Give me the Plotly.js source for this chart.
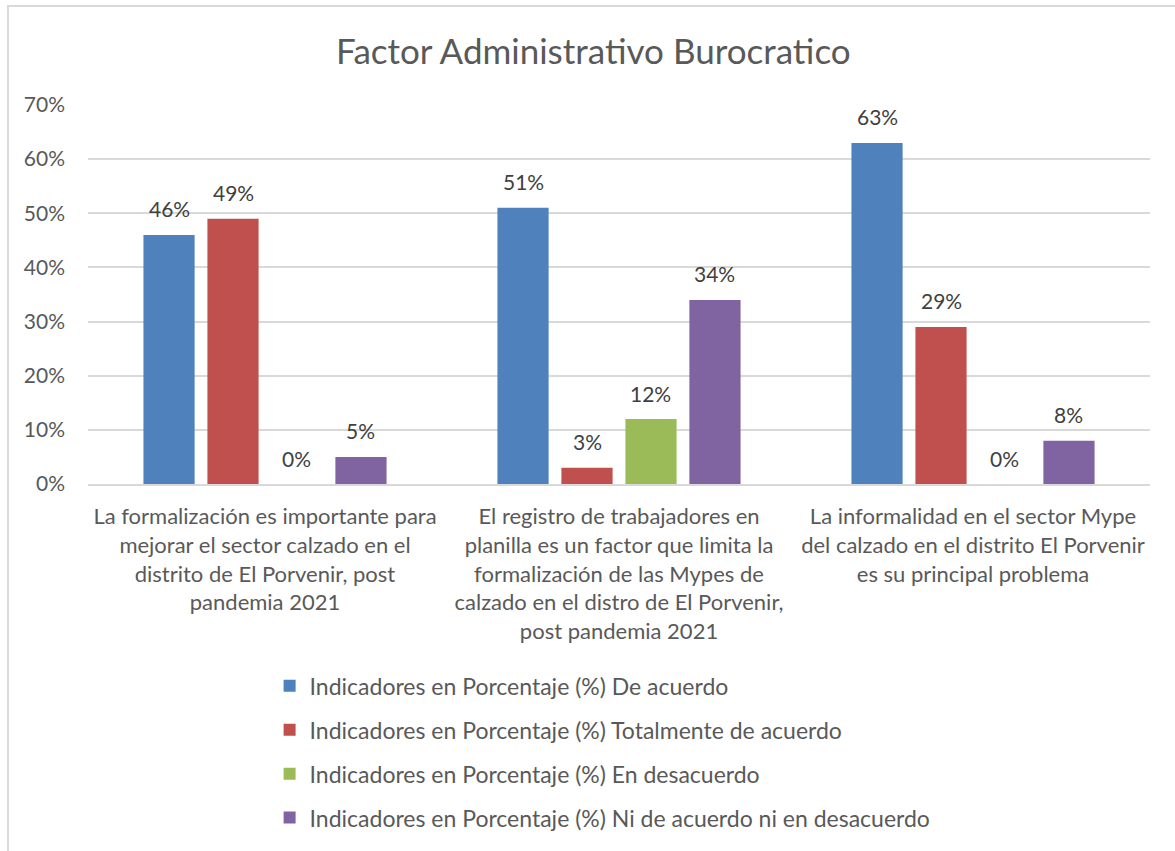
<!DOCTYPE html>
<html>
<head>
<meta charset="utf-8">
<script src="https://cdn.plot.ly/plotly-3.0.1.min.js"></script>
<style>
html,body{margin:0;padding:0;background:#fff;}
#wrap{position:relative;width:1175px;height:851px;}
#chart{width:1175px;height:851px;}
#frame{position:absolute;left:7px;top:5px;right:0;bottom:0;border-left:2px solid #d9d9d9;border-top:2px solid #d9d9d9;pointer-events:none;}
</style>
</head>
<body>
<div id="wrap"><div id="chart"></div><div id="frame"></div></div>
<script>
const categories = [
  "La formalización es importante para<br>mejorar el sector calzado en el<br>distrito de El Porvenir, post<br>pandemia 2021",
  "El registro de trabajadores en<br>planilla es un factor que limita la<br>formalización de las Mypes de<br>calzado en el distro de El Porvenir,<br>post pandemia 2021",
  "La informalidad en el sector Mype<br>del calzado en el distrito El Porvenir<br>es su principal problema"
];
const seriesNames = [
  "Indicadores en Porcentaje (%) De acuerdo",
  "Indicadores en Porcentaje (%) Totalmente de acuerdo",
  "Indicadores en Porcentaje (%) En desacuerdo",
  "Indicadores en Porcentaje (%) Ni de acuerdo ni en desacuerdo"
];
const deAcuerdo = [0.46, 0.51, 0.63];
const totalmente = [0.49, 0.03, 0.29];
const enDesacuerdo = [0.00, 0.12, 0.00];
const niNi = [0.05, 0.34, 0.08];
const colors = ["#4F81BD", "#C0504D", "#9BBB59", "#8064A2"];
const seriesValues = [deAcuerdo, totalmente, enDesacuerdo, niNi];

const FONT = "Lato, 'Open Sans', sans-serif";
const W = 1175, H = 851;
const M = {l: 88, r: 25, t: 105, b: 365};
const BARGAP = 0.277, BARGROUPGAP = 0.2;

const traces = seriesValues.map((vals, i) => ({
  type: "bar",
  name: seriesNames[i],
  x: categories,
  y: vals,
  marker: {color: colors[i]},
  legendgroup: "g" + i,
  hoverinfo: "skip"
}));

// data labels placed over each bar via the axis scales (slot offset from bargap)
const catWidth = (W - M.l - M.r) / categories.length;
const slot = catWidth * (1 - BARGAP) / seriesValues.length;
const annotations = [];
seriesValues.forEach((vals, i) => {
  vals.forEach((v, j) => {
    annotations.push({
      x: categories[j], y: v, xref: "x", yref: "y",
      text: Math.round(v * 100) + "%",
      showarrow: false,
      xshift: (i - (seriesValues.length - 1) / 2) * slot,
      yshift: 26,
      yanchor: "middle", xanchor: "center",
      font: {family: FONT, size: 21, color: "#404040"}
    });
  });
});

const layout = {
  width: W,
  height: H,
  paper_bgcolor: "#ffffff",
  plot_bgcolor: "#ffffff",
  font: {family: FONT, color: "#595959"},
  title: {
    text: "Factor Administrativo Burocratico",
    font: {family: FONT, size: 35, color: "#595959"},
    x: 0.505, xanchor: "center",
    y: 0.939, yanchor: "middle"
  },
  margin: M,
  barmode: "group",
  bargap: BARGAP,
  bargroupgap: BARGROUPGAP,
  showlegend: true,
  legend: {
    orientation: "v",
    x: 0.171, xanchor: "left",
    y: -0.476, yanchor: "top",
    font: {family: FONT, size: 23, color: "#595959"},
    tracegroupgap: 11,
    itemwidth: 30,
    bgcolor: "rgba(0,0,0,0)"
  },
  annotations: annotations,
  xaxis: {
    type: "category",
    automargin: false,
    tickfont: {family: FONT, size: 22, color: "#595959"},
    showline: true,
    linecolor: "#d9d9d9",
    linewidth: 2,
    ticks: "",
    ticklabelstandoff: 12,
    showgrid: false
  },
  yaxis: {
    automargin: false,
    range: [0, 0.7],
    dtick: 0.1,
    tick0: 0,
    tickformat: ".0%",
    tickfont: {family: FONT, size: 21, color: "#595959"},
    gridcolor: "#d9d9d9",
    gridwidth: 2,
    zeroline: false,
    showline: false,
    ticks: "",
    ticklabelstandoff: 22
  }
};

Plotly.newPlot("chart", traces, layout, {displayModeBar: false, staticPlot: true});
</script>
</body>
</html>
